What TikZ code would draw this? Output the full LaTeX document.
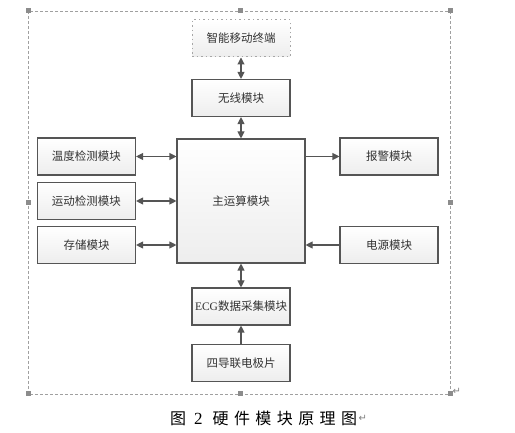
\documentclass[tikz,border=0pt]{standalone}
\usepackage{fontspec}
\setmainfont{Liberation Serif}
\newfontfamily\cjk{Noto Sans CJK SC}
\newfontfamily\symb{DejaVu Sans}
\usetikzlibrary{arrows.meta}
\definecolor{cline}{RGB}{85,85,85}
\definecolor{ctext}{RGB}{51,51,51}
\definecolor{cframe}{RGB}{160,160,160}
\newcommand{\gap}{\kern5.4pt}

\begin{document}
\begin{tikzpicture}[x=1pt, y=-1pt,
    box/.style={draw=cline, line width=1.1pt, top color=white, bottom color=gray!14,
                minimum width=98pt, minimum height=37pt, inner sep=0pt,
                font=\cjk\fontsize{11.5}{13}\selectfont, text=ctext},
    termbox/.style={box, draw=gray!70, dash pattern=on 1.5pt off 3pt, line width=1pt},
    >={Triangle[length=7pt, width=7pt]},
    link/.style={->, line width=1.1pt, cline},
    dlink/.style={<->, line width=1.1pt, cline},
    handle/.style={fill=gray!90, draw=none, minimum size=5pt, inner sep=0pt}
  ]
  \useasboundingbox (0,0) rectangle (515,433);

  % selection frame
  \draw[cframe, line width=0.7pt, dash pattern=on 3pt off 2pt] (28,11) rectangle (450,394);
  \foreach \hx/\hy [count=\i] in {28/11, 240/11, 450/11, 28/203, 450/203, 28/394, 240/394, 450/394}
    \node[handle] (h\i) at (\hx,\hy) {};
  \node[font=\symb\fontsize{10}{10}\selectfont, text=gray, anchor=west] (mark1) at (449,391) {↵};

  % modules
  \node[termbox] (term) at (241,38.5) {智能移动终端};
  \node[box] (wifi) at (241,98) {无线模块};
  \node[box, minimum width=128pt, minimum height=124pt] (main) at (241,201) {主运算模块};
  \node[box] (temp) at (86.5,156.5) {温度检测模块};
  \node[box] (motion) at (86.5,201) {运动检测模块};
  \node[box] (store) at (86.5,245) {存储模块};
  \node[box] (alarm) at (389,156.5) {报警模块};
  \node[box] (power) at (389,245) {电源模块};
  \node[box] (ecg) at (241,306.5) {{\rmfamily ECG}数据采集模块};
  \node[box] (elec) at (241,363) {四导联电极片};

  % connections
  \draw[dlink] (term) -- (wifi);
  \draw[dlink] (wifi) -- (main);
  \draw[dlink] (temp.east) -- (main.west |- temp.east);
  \draw[dlink] (motion.east) -- (main.west |- motion.east);
  \draw[dlink] (store.east) -- (main.west |- store.east);
  \draw[link] (main.east |- alarm.west) -- (alarm.west);
  \draw[link] (power.west) -- (main.east |- power.west);
  \draw[dlink] (main) -- (ecg);
  \draw[link] (elec) -- (ecg);

  % caption
  \node[font=\cjk\fontsize{16}{18}\selectfont, inner sep=0pt, anchor=west] (cap) at (170,418)
    {图\hspace{8pt}{\rmfamily\fontsize{17}{18}\selectfont 2}\hspace{10pt}硬\gap 件\gap 模\gap 块\gap 原\gap 理\gap 图};
  \node[font=\symb\fontsize{10}{10}\selectfont, text=gray, anchor=west, inner sep=1pt] (mark2) at (cap.east) {↵};
\end{tikzpicture}
\end{document}
